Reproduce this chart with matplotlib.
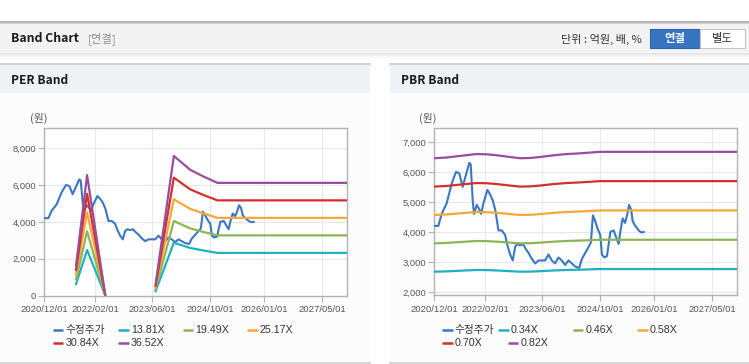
import matplotlib
matplotlib.use('Agg')
import matplotlib.pyplot as plt
import matplotlib.dates as mdates
from matplotlib.patches import Rectangle
from matplotlib.lines import Line2D
from matplotlib.ticker import FuncFormatter
from matplotlib import font_manager
import numpy as np
import pandas as pd

# ---------------- data ----------------
price_dates = ['2020-12-01', '2021-01-04', '2021-02-01', '2021-03-15', '2021-04-26', '2021-06-02',
               '2021-06-30', '2021-07-28', '2021-08-25', '2021-09-22', '2021-10-04', '2021-10-21',
               '2021-11-01', '2021-11-24', '2021-12-16', '2021-12-31', '2022-01-19', '2022-02-22',
               '2022-03-17', '2022-04-08', '2022-05-01', '2022-05-26', '2022-06-23', '2022-07-21',
               '2022-08-10', '2022-09-02', '2022-09-24', '2022-10-14', '2022-11-02', '2022-11-25',
               '2022-12-18', '2023-01-09', '2023-02-04', '2023-03-04', '2023-04-01', '2023-04-29',
               '2023-05-27', '2023-06-24', '2023-07-22', '2023-08-19', '2023-09-16', '2023-10-14',
               '2023-11-11', '2023-12-10', '2024-01-07', '2024-02-04', '2024-03-03', '2024-04-06',
               '2024-04-29', '2024-05-27', '2024-06-24', '2024-07-14', '2024-07-31', '2024-08-20',
               '2024-09-09', '2024-10-01', '2024-10-15', '2024-11-04', '2024-11-27', '2024-12-25',
               '2025-01-22', '2025-02-14', '2025-03-05', '2025-03-19', '2025-04-08', '2025-04-28',
               '2025-05-15', '2025-06-01', '2025-06-18', '2025-07-02', '2025-07-24', '2025-08-21',
               '2025-09-13', '2025-10-03']
price_values = [4200, 4200, 4600, 4950, 5600, 6000,
                5950, 5500, 5900, 6300, 6250, 5050,
                4600, 4900, 4750, 4600, 4950, 5400,
                5250, 5050, 4700, 4050, 4050, 3900,
                3550, 3250, 3050, 3500, 3600, 3550,
                3600, 3450, 3300, 3100, 2950, 3050,
                3050, 3050, 3250, 3050, 2950, 3150,
                3050, 2900, 3050, 2950, 2850, 2800,
                3100, 3300, 3500, 3650, 4550, 4350,
                4100, 3900, 3250, 3150, 3200, 4000,
                4050, 3800, 3600, 4000, 4450, 4300,
                4550, 4900, 4750, 4350, 4200, 4050,
                3980, 4000]

# PER band base (EPS, 원) - NaN = no band drawn
eps_dates = ['2021-08-26', '2021-11-27', '2022-04-28', '2023-01-01', '2023-06-28',
             '2023-11-29', '2024-04-14', '2024-08-04', '2024-12-01', '2027-12-01']
eps_values = [45, 179, 2, np.nan, 17, 207.5, 187, 177, 167.5, 167.5]
per_multiples = [13.81, 19.49, 25.17, 30.84, 36.52]
per_labels = ['13.81X', '19.49X', '25.17X', '30.84X', '36.52X']

# PBR band base (BPS, 원)
bps_dates = ['2020-12-01', '2021-03-15', '2021-08-03', '2021-11-24', '2022-02-16', '2022-05-12',
             '2022-09-01', '2022-11-25', '2023-02-17', '2023-05-13', '2023-09-03', '2023-12-24',
             '2024-04-15', '2024-10-01', '2027-12-01']
bps_values = [7870, 7900, 7980, 8040, 8030, 7990,
              7920, 7870, 7880, 7920, 7990, 8040,
              8070, 8130, 8130]
pbr_multiples = [0.34, 0.46, 0.58, 0.70, 0.82]
pbr_labels = ['0.34X', '0.46X', '0.58X', '0.70X', '0.82X']

price_label = '수정주가'
xtick_dates = ['2020-12-01', '2022-02-01', '2023-06-01', '2024-10-01', '2026-01-01', '2027-05-01']
x_range = ['2020-12-01', '2027-12-01']
per_yticks = [0, 2000, 4000, 6000, 8000]
pbr_yticks = [2000, 3000, 4000, 5000, 6000, 7000]

# ---------------- style ----------------
price_color = '#3a77c4'
band_colors = ['#1fb1c1', '#8db456', '#f3a83a', '#d4302b', '#994d9c']

names = {f.name for f in font_manager.fontManager.ttflist}
narrow = 'Liberation Sans Narrow' in names
plt.rcParams['font.family'] = ['Liberation Sans', 'Noto Sans CJK KR', 'DejaVu Sans']
KR = ['Noto Sans CJK KR', 'DejaVu Sans']
TITLE = (['Liberation Sans Narrow', 'Noto Sans CJK KR'] if narrow else ['Noto Sans CJK KR'])
tsz_main = 10.6 if narrow else 8.8
tsz_panel = 10.3 if narrow else 8.6

W, H = 749, 364
fig = plt.figure(figsize=(W / 100, H / 100), dpi=100)
fig.patch.set_facecolor('white')

bg = fig.add_axes([0, 0, 1, 1], zorder=0)
bg.set_xlim(0, W)
bg.set_ylim(H, 0)
bg.axis('off')


def rect(x0, y0, x1, y1, fc, ec='none', lw=0):
    bg.add_patch(Rectangle((x0, y0), x1 - x0, y1 - y0, facecolor=fc, edgecolor=ec, linewidth=lw))


def hline(x0, x1, y, color, lw=1.0):
    bg.add_line(Line2D([x0, x1], [y, y], color=color, linewidth=lw))


# top header band
rect(0, 22, W, 52, '#f3f3f3')
hline(0, W, 22.2, '#a9a9a9', 1.2)
hline(0, W, 23.3, '#d2d2d2', 0.8)
for i, c in enumerate(['#e2e2e2', '#ebebeb', '#f2f2f2', '#f7f7f7', '#fbfbfb']):
    hline(0, W, 52.5 + i, c, 0.9)
bg.text(11, 39, 'Band Chart', fontsize=tsz_main, fontweight='bold', family=TITLE,
        color='#1a1a1a', va='center', ha='left')
bg.text(88, 39, '[연결]', fontsize=8.2, family=KR, color='#8a8a8a', va='center', ha='left')
bg.text(642, 39, '단위 : 억원, 배, %', fontsize=8.0, family=KR, color='#333333',
        va='center', ha='right')
rect(650, 29, 700, 47.5, '#3774bf', ec='#2e64a8', lw=0.8)
rect(700, 29, 745, 47.5, '#ffffff', ec='#c4c4c4', lw=0.8)
bg.text(675, 38.5, '연결', fontsize=8.2, family=KR, fontweight='bold', color='white',
        va='center', ha='center')
bg.text(722.5, 38.5, '별도', fontsize=8.2, family=KR, color='#333333', va='center', ha='center')

# panels
panels = [(0, 370, 'PER Band'), (390, W, 'PBR Band')]
for x0, x1, title in panels:
    rect(x0, 64, x1, 93, '#eef2f7')
    rect(x0, 93, x1, 362, '#fcfcfc')
    hline(x0, x1, 64.3, '#c9c9c9', 1.2)
    hline(x0, x1, 362.5, '#cfcfcf', 1.2)
    bg.text(x0 + 11, 80, title, fontsize=tsz_panel, fontweight='bold', family=TITLE,
            color='#1a1a1a', va='center', ha='left')


def make_axes(x0, y0, x1, y1):
    return fig.add_axes([x0 / W, 1 - y1 / H, (x1 - x0) / W, (y1 - y0) / H], zorder=2)


def style_axes(ax, yticks, ylim):
    ax.set_facecolor('white')
    ax.set_xlim(pd.to_datetime(x_range[0]), pd.to_datetime(x_range[1]))
    ax.set_ylim(*ylim)
    ax.set_yticks(yticks)
    ax.yaxis.set_major_formatter(FuncFormatter(lambda v, p: f'{int(v):,}'))
    ax.set_xticks(pd.to_datetime(xtick_dates))
    ax.xaxis.set_major_formatter(mdates.DateFormatter('%Y/%m/%d'))
    ax.grid(True, color='#e8e8e8', linewidth=0.8)
    ax.set_axisbelow(True)
    for s in ax.spines.values():
        s.set_color('#b3b3b3')
        s.set_linewidth(1.0)
    ax.tick_params(axis='both', length=4, width=0.8, color='#b3b3b3', labelsize=6.8,
                   labelcolor='#555555', pad=2)
    ax.tick_params(axis='x', pad=3)


def draw(ax, base_dates, base_values, multiples):
    ax.plot(pd.to_datetime(price_dates), price_values, color=price_color, lw=1.5, zorder=3)
    bd = pd.to_datetime(base_dates)
    bv = np.array(base_values, dtype=float)
    for m, c in zip(multiples, band_colors):
        ax.plot(bd, bv * m, color=c, lw=1.6, zorder=4, solid_joinstyle='round')


# PER chart
ax1 = make_axes(44.3, 128.3, 347.3, 295.5)
draw(ax1, eps_dates, eps_values, per_multiples)
style_axes(ax1, per_yticks, (0, 9080))

# PBR chart
ax2 = make_axes(434.3, 128.3, 737.3, 295.3)
draw(ax2, bps_dates, bps_values, pbr_multiples)
style_axes(ax2, pbr_yticks, (1890, 7450))

for xc in (39, 427.5):
    bg.text(xc, 118, '(원)', fontsize=7.8, family=KR, color='#555555', va='center', ha='center')

# legends (manual, row-major flow layout)
legend_rows = [(330, 0), (343.3, 4)]
per_cols = [[52.7, 118.3, 182.7, 247.3], [52.7, 118.3]]
pbr_cols = [[442.3, 498.3, 572.7, 637.3], [442.3, 507.7]]
for cols, labels in ((per_cols, per_labels), (pbr_cols, pbr_labels)):
    items = [(price_label, price_color)] + list(zip(labels, band_colors))
    k = 0
    for (yy, _), xs in zip(legend_rows, cols):
        for xx in xs:
            lab, col = items[k]
            k += 1
            bg.add_line(Line2D([xx, xx + 10.5], [yy, yy], color=col, linewidth=1.8,
                               solid_capstyle='butt'))
            bg.text(xx + 12.5, yy, lab, fontsize=7.7, color='#333333', va='center', ha='left',
                    family=['Liberation Sans', 'Noto Sans CJK KR'])

fig.savefig('out.png', dpi=100)
